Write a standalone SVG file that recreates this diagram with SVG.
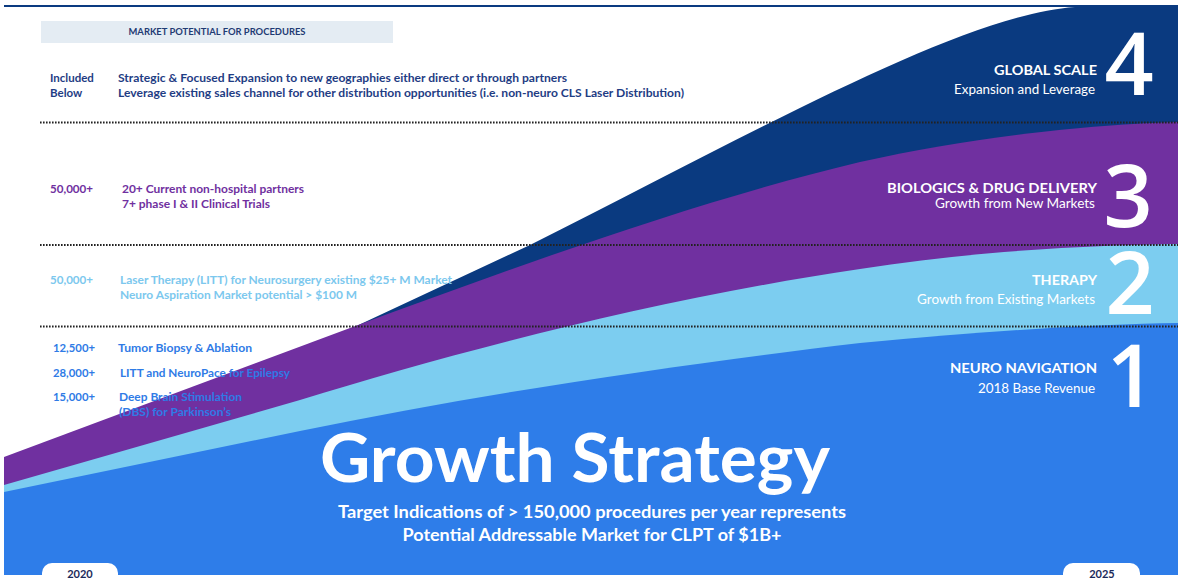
<svg xmlns="http://www.w3.org/2000/svg" width="1180" height="586" viewBox="0 0 1180 586">
  <style>
    text { font-family: Lato, "Open Sans", "Liberation Sans", sans-serif; }
    .b { font-weight: 700; }
    .navy { fill: #1f3d84; }
    .pur { fill: #7030a0; }
    .lb { fill: #7cc8ee; }
    .blu { fill: #2f7be6; }
    .w { fill: #ffffff; }
    .body { font-size: 11.5px; font-weight: 700; }
    .rt { font-size: 13.5px; font-weight: 700; fill: #ffffff; text-anchor: end; }
    .rs { font-size: 12.5px; fill: #ffffff; text-anchor: end; }
    .num { font-family: "Open Sans", Lato, sans-serif; font-size: 86px; font-weight: 600; fill: #ffffff; text-anchor: middle; }
    .dot { stroke: #222; stroke-width: 1.8; stroke-dasharray: 1.6 1.4; fill: none; }
    .yr { font-size: 11px; font-weight: 700; fill: #1b2a5a; text-anchor: middle; }
  </style>

  <g id="bands">
    <path id="band-global" fill="#0a3a80" d="M350,329 L530,245 C750,135 960,15 1075,7 L1178,7 L1178,575 L350,575 Z"/>
    <path id="band-biologics" fill="#7030a0" d="M4,457 L350,328 C520,265 700,200 860,162 C980,135 1100,124 1178,122 L1178,575 L4,575 Z"/>
    <path id="band-therapy" fill="#7ccdf0" d="M4,485 L300,400 C450,354 650,300 860,269 C980,250 1100,245 1178,244 L1178,575 L4,575 Z"/>
    <path id="band-neuro" fill="#2e7de9" d="M4,492 L300,431 C500,390 700,362 860,343 C1000,330 1100,324 1178,323 L1178,575 L4,575 Z"/>
  </g>

  <g id="guides">
    <line x1="4" y1="6" x2="1178" y2="6" stroke="#0a3a80" stroke-width="2"/>
    <line class="dot" x1="40" y1="122.5" x2="1178" y2="122.5"/>
    <line class="dot" x1="40" y1="245" x2="1178" y2="245"/>
    <line class="dot" x1="40" y1="326.5" x2="1178" y2="326.5"/>
  </g>

  <g id="header">
    <rect x="41" y="21" width="352" height="22" fill="#e4ecf3"/>
    <text x="217" y="35" font-size="8.5" class="b" fill="#1f3b73" text-anchor="middle" textLength="177" lengthAdjust="spacingAndGlyphs">MARKET POTENTIAL FOR PROCEDURES</text>
  </g>

  <g id="row-global">
    <text class="body navy" x="50" y="82">Included</text>
    <text class="body navy" x="50" y="97">Below</text>
    <text class="body navy" x="118" y="82" textLength="449" lengthAdjust="spacingAndGlyphs">Strategic &amp; Focused Expansion to new geographies either direct or through partners</text>
    <text class="body navy" x="118" y="97" textLength="566" lengthAdjust="spacingAndGlyphs">Leverage existing sales channel for other distribution opportunities (i.e. non-neuro CLS Laser Distribution)</text>
  </g>

  <g id="row-biologics">
    <text class="body pur" x="50" y="193" textLength="43" lengthAdjust="spacingAndGlyphs">50,000+</text>
    <text class="body pur" x="122" y="193" textLength="182" lengthAdjust="spacingAndGlyphs">20+ Current non-hospital partners</text>
    <text class="body pur" x="122" y="208" textLength="148" lengthAdjust="spacingAndGlyphs">7+ phase I &amp; II Clinical Trials</text>
  </g>

  <g id="row-therapy">
    <text class="body lb" x="50" y="284" textLength="43" lengthAdjust="spacingAndGlyphs">50,000+</text>
    <text class="body lb" x="120" y="284" textLength="332" lengthAdjust="spacingAndGlyphs">Laser Therapy (LITT) for Neurosurgery existing $25+ M Market</text>
    <text class="body lb" x="120" y="299" textLength="237" lengthAdjust="spacingAndGlyphs">Neuro Aspiration Market potential &gt; $100 M</text>
  </g>

  <g id="row-neuro">
    <text class="body blu" x="53" y="352" textLength="42" lengthAdjust="spacingAndGlyphs">12,500+</text>
    <text class="body blu" x="118" y="352" textLength="134" lengthAdjust="spacingAndGlyphs">Tumor Biopsy &amp; Ablation</text>
    <text class="body blu" x="53" y="377" textLength="42" lengthAdjust="spacingAndGlyphs">28,000+</text>
    <text class="body blu" x="120" y="377" textLength="170" lengthAdjust="spacingAndGlyphs">LITT and NeuroPace for Epilepsy</text>
    <text class="body blu" x="53" y="401" textLength="42" lengthAdjust="spacingAndGlyphs">15,000+</text>
    <text class="body blu" x="119" y="401" textLength="123" lengthAdjust="spacingAndGlyphs">Deep Brain Stimulation</text>
    <text class="body blu" x="119" y="416" textLength="112" lengthAdjust="spacingAndGlyphs">(DBS) for Parkinson’s</text>
  </g>

  <g id="label-global">
    <text class="rt" x="1097" y="75" textLength="103" lengthAdjust="spacingAndGlyphs">GLOBAL SCALE</text>
    <text class="rs" x="1095" y="94" textLength="141" lengthAdjust="spacingAndGlyphs">Expansion and Leverage</text>
    <text class="num" x="1129" y="95">4</text>
  </g>
  <g id="label-biologics">
    <text class="rt" x="1097" y="193" textLength="210" lengthAdjust="spacingAndGlyphs">BIOLOGICS &amp; DRUG DELIVERY</text>
    <text class="rs" x="1095" y="208" textLength="160" lengthAdjust="spacingAndGlyphs">Growth from New Markets</text>
    <text class="num" x="1128" y="227">3</text>
  </g>
  <g id="label-therapy">
    <text class="rt" x="1097" y="285" textLength="65" lengthAdjust="spacingAndGlyphs">THERAPY</text>
    <text class="rs" x="1095" y="304" textLength="178" lengthAdjust="spacingAndGlyphs">Growth from Existing Markets</text>
    <text class="num" x="1130" y="314">2</text>
  </g>
  <g id="label-neuro">
    <text class="rt" x="1097" y="373" textLength="147" lengthAdjust="spacingAndGlyphs">NEURO NAVIGATION</text>
    <text class="rs" x="1095" y="393" textLength="117" lengthAdjust="spacingAndGlyphs">2018 Base Revenue</text>
    <text class="num" x="1131" y="407">1</text>
  </g>

  <g id="title">
    <text x="320" y="482" font-size="66" class="b w" textLength="510" lengthAdjust="spacingAndGlyphs">Growth Strategy</text>
    <text x="592" y="518" font-size="16.5" class="b w" text-anchor="middle" textLength="508" lengthAdjust="spacingAndGlyphs">Target Indications of &gt; 150,000 procedures per year represents</text>
    <text x="592" y="541" font-size="16.5" class="b w" text-anchor="middle" textLength="379" lengthAdjust="spacingAndGlyphs">Potential Addressable Market for CLPT of $1B+</text>
  </g>

  <g id="year-2020">
    <rect x="42" y="563" width="76" height="30" rx="10" fill="#ffffff"/>
    <text class="yr" x="80" y="578">2020</text>
  </g>
  <g id="year-2025">
    <rect x="1063" y="563" width="77" height="30" rx="10" fill="#ffffff"/>
    <text class="yr" x="1102" y="578">2025</text>
  </g>
</svg>
